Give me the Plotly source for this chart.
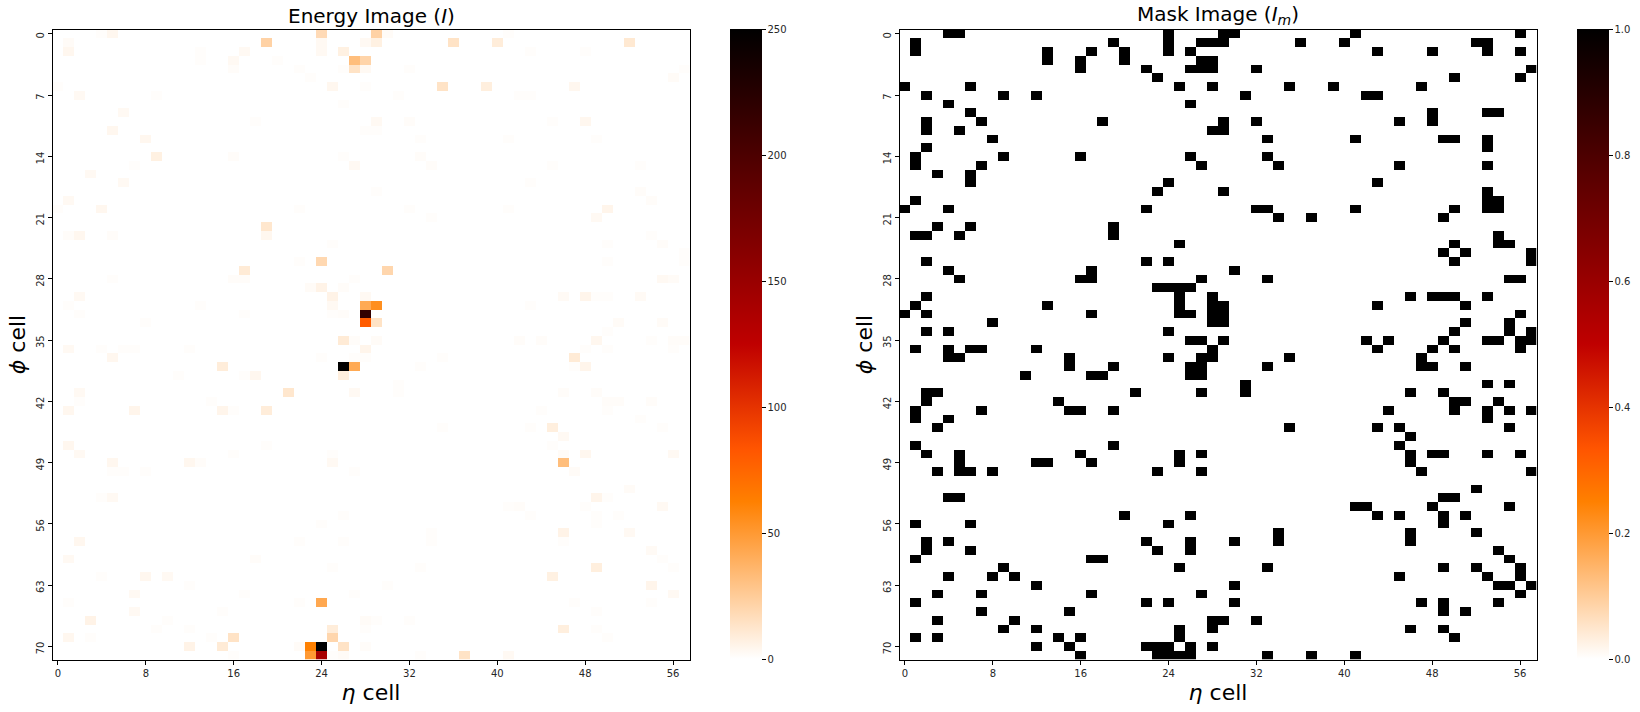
import numpy as np
import plotly.graph_objects as go

N_ETA = 58
N_PHI = 72
eta_ticks = [0, 8, 16, 24, 32, 40, 48, 56]
phi_ticks = [0, 7, 14, 21, 28, 35, 42, 49, 56, 63, 70]
energy_ticks = [0, 50, 100, 150, 200, 250]
mask_ticks = [0.0, 0.2, 0.4, 0.6, 0.8, 1.0]

# Mask image: occupied eta cells per phi row
mask_cols = {
    0: [4, 5, 24, 29, 30, 41, 56], 1: [1, 19, 24, 27, 28, 29, 36, 40, 52, 53],
    2: [1, 13, 17, 20, 24, 26, 43, 48, 53, 56], 3: [13, 16, 20, 27, 28],
    4: [16, 22, 26, 27, 28, 32, 57], 5: [23, 50, 56], 6: [0, 6, 25, 28, 35, 39, 47],
    7: [2, 9, 12, 31, 42, 43], 8: [4, 26], 9: [6, 48, 53, 54],
    10: [2, 7, 18, 29, 32, 45, 48], 11: [2, 5, 28, 29], 12: [8, 33, 41, 49, 50, 53],
    13: [2, 53], 14: [1, 9, 16, 26, 33], 15: [1, 7, 27, 34, 45, 53], 16: [3, 6],
    17: [6, 24, 43], 18: [23, 29, 53], 19: [1, 53, 54],
    20: [0, 4, 22, 32, 33, 41, 50, 53, 54], 21: [34, 37, 49], 22: [3, 6, 19],
    23: [1, 2, 5, 19, 54], 24: [25, 50, 54, 55], 25: [49, 51, 57],
    26: [2, 22, 24, 50, 57], 27: [4, 17, 30], 28: [5, 16, 17, 27, 33, 55, 56],
    29: [23, 24, 25, 26], 30: [2, 25, 28, 46, 48, 49, 50, 53],
    31: [1, 13, 25, 28, 29, 43, 51], 32: [0, 2, 17, 25, 26, 28, 29, 56],
    33: [8, 28, 29, 51, 55], 34: [2, 4, 24, 50, 55, 57],
    35: [26, 27, 29, 42, 44, 49, 53, 54, 56, 57],
    36: [1, 4, 6, 7, 12, 28, 43, 48, 50, 56], 37: [4, 5, 15, 24, 27, 28, 35, 47],
    38: [15, 19, 26, 27, 33, 47, 48, 51], 39: [11, 17, 18, 26, 27], 40: [31, 53, 55],
    41: [2, 3, 21, 27, 31, 46, 49], 42: [2, 14, 50, 51, 54],
    43: [1, 7, 15, 16, 19, 44, 50, 53, 55, 57], 44: [1, 4, 53], 45: [3, 35, 43, 45, 55],
    46: [46], 47: [1, 19, 45], 48: [2, 5, 16, 25, 27, 46, 48, 49, 53, 56],
    49: [5, 12, 13, 17, 25, 46], 50: [3, 5, 6, 8, 23, 27, 47, 57], 52: [52],
    53: [4, 5, 49, 50], 54: [41, 42, 48, 55], 55: [20, 26, 43, 45, 49, 51],
    56: [1, 6, 24, 49], 57: [34, 46, 52], 58: [2, 4, 22, 26, 30, 34, 46],
    59: [2, 6, 23, 26, 54], 60: [1, 17, 18, 55], 61: [9, 25, 33, 49, 52, 56],
    62: [4, 8, 10, 45, 53, 56], 63: [12, 30, 54, 55, 57], 64: [3, 7, 17, 27, 56],
    65: [1, 22, 24, 30, 47, 49, 54], 66: [7, 15, 49, 51], 67: [3, 10, 28, 29, 32],
    68: [9, 12, 25, 28, 46, 49], 69: [1, 3, 14, 16, 25, 50],
    70: [12, 15, 22, 23, 24, 26, 28], 71: [16, 23, 24, 25, 26, 33, 37, 41],
}

# Energy image: visible deposits per phi row, {eta cell: energy}
energy_vals = {
    0: {4: 1, 5: 4, 24: 18, 29: 22, 30: 2, 41: 1},
    1: {1: 2, 19: 22, 24: 3, 28: 3, 29: 7, 36: 14, 40: 9, 52: 11},
    2: {1: 4, 13: 1, 17: 3, 24: 3, 26: 7, 43: 1, 48: 1},
    3: {13: 1, 16: 3, 20: 1, 27: 32, 28: 21},
    4: {16: 1.5, 22: 1, 26: 1, 27: 14, 28: 3, 32: 1, 57: 1},
    5: {23: 1, 56: 2},
    6: {0: 1, 25: 4, 28: 1, 35: 14, 39: 8, 47: 4},
    7: {2: 3, 9: 1, 31: 1, 42: 1, 43: 1},
    8: {26: 1},
    9: {6: 3},
    10: {18: 1, 29: 3, 32: 1.5, 45: 1, 48: 4},
    11: {5: 4, 28: 1, 29: 1},
    12: {8: 4, 33: 1, 41: 1, 49: 1},
    14: {9: 7, 16: 1.5, 26: 1, 33: 1.5},
    15: {7: 1, 27: 3, 34: 1.5, 45: 1, 53: 1},
    16: {3: 3},
    17: {6: 3, 43: 1},
    18: {29: 1, 53: 1.5},
    19: {1: 3, 54: 1.5},
    20: {0: 1, 4: 4, 22: 1, 32: 1, 41: 1, 50: 5},
    21: {34: 1, 49: 3},
    22: {19: 12},
    23: {1: 1.5, 2: 4, 5: 1.5, 19: 4, 54: 1},
    24: {25: 1, 50: 1, 55: 1.5},
    25: {57: 1},
    26: {22: 1, 24: 19, 50: 1, 57: 1},
    27: {17: 10, 30: 20},
    28: {5: 1, 16: 1.5, 17: 1.5, 27: 1, 55: 3, 56: 2},
    29: {23: 2, 24: 6, 26: 1.5},
    30: {2: 3, 25: 6, 28: 3, 46: 2.5, 48: 5, 49: 1, 50: 1, 53: 2.5},
    31: {1: 1, 13: 1, 25: 3, 28: 42, 29: 55, 43: 1},
    32: {2: 1, 17: 1, 25: 1, 26: 1.5, 28: 218},
    33: {8: 1, 28: 80, 29: 14, 51: 2, 55: 2},
    34: {50: 1},
    35: {26: 10, 27: 1.5, 29: 2, 42: 1.5, 44: 1.5, 49: 4, 54: 1, 56: 1.5, 57: 1.5},
    36: {1: 3, 4: 1, 6: 1, 7: 1, 12: 1, 28: 5, 48: 1, 50: 1, 56: 1},
    37: {5: 4, 24: 1, 27: 1, 28: 1, 35: 1, 47: 10},
    38: {15: 9, 26: 250, 27: 42, 33: 1, 47: 1, 48: 5},
    39: {11: 1, 17: 1, 18: 4, 26: 8},
    40: {31: 1},
    41: {2: 3, 21: 12, 27: 3, 31: 1, 46: 1.5, 49: 1.5},
    42: {2: 1, 14: 1, 50: 1.5, 51: 1.5, 54: 1.5},
    43: {1: 4, 7: 5, 15: 5, 16: 1, 19: 9, 44: 1, 50: 1},
    44: {53: 1},
    45: {35: 1, 43: 1, 45: 8, 55: 1},
    46: {46: 3},
    47: {1: 4, 19: 1, 45: 1},
    48: {2: 3, 16: 1, 25: 1, 46: 2, 48: 4, 56: 3},
    49: {5: 4, 12: 4, 13: 1.5, 25: 3, 46: 32},
    50: {5: 1, 6: 1, 8: 1, 27: 1, 47: 2},
    52: {52: 2},
    53: {4: 1, 5: 3, 49: 5, 50: 1},
    54: {41: 1, 42: 1.5, 48: 1, 55: 3},
    55: {26: 1, 43: 1, 49: 1, 51: 1},
    56: {24: 1, 49: 1},
    57: {34: 1, 46: 6, 52: 3},
    58: {2: 4, 22: 1, 26: 1, 34: 1, 46: 1},
    59: {54: 2.5},
    60: {1: 3, 18: 1.5, 55: 1},
    61: {25: 1, 33: 1, 49: 8, 56: 1},
    62: {4: 1, 8: 4, 10: 3, 45: 7},
    63: {12: 1, 30: 1, 54: 5},
    64: {7: 3, 17: 1, 27: 1, 56: 3},
    65: {1: 1, 22: 1, 24: 43, 47: 1, 54: 1},
    66: {7: 3, 15: 1, 49: 1},
    67: {3: 6, 10: 1, 28: 2, 29: 1, 32: 1},
    68: {9: 1, 12: 1, 25: 9, 28: 1, 46: 8, 49: 1},
    69: {1: 4, 3: 1, 14: 1, 16: 14, 25: 20, 50: 1},
    70: {12: 6, 15: 10, 22: 2, 23: 62, 24: 250, 26: 14, 28: 1.5},
    71: {16: 1, 23: 50, 24: 140, 25: 1, 26: 2, 33: 1, 37: 14, 41: 3},
}

energy = np.zeros((N_PHI, N_ETA))
for row, cells in energy_vals.items():
    for col, val in cells.items():
        energy[row, col] = val
mask = np.zeros((N_PHI, N_ETA))
for row, cols in mask_cols.items():
    mask[row, cols] = 1

gist_heat_r = [
    [0.0, "rgb(255,255,255)"],
    [0.25, "rgb(255,128,0)"],
    [1 / 3, "rgb(255,85,0)"],
    [0.5, "rgb(191,0,0)"],
    [1.0, "rgb(0,0,0)"],
]

W, H = 1640, 712
TOP, BOT = 29.5, 659.5
FONT = "DejaVu Sans"
TICK_FONT = dict(family=FONT, size=10, color="#262626")


def colorbar(x0, ticks, fmt):
    return dict(
        x=x0 / W, xanchor="left", xpad=0, y=1 - TOP / H, yanchor="top", ypad=0,
        len=(BOT - TOP) / H, lenmode="fraction", thickness=32, thicknessmode="pixels",
        outlinewidth=0, tickvals=ticks, tickformat=fmt, ticks="outside", ticklen=4,
        tickwidth=1, tickcolor="#000", tickfont=TICK_FONT,
    )


fig = go.Figure()
x = list(range(N_ETA))
y = list(range(N_PHI))
fig.add_trace(go.Heatmap(z=energy, x=x, y=y, xaxis="x", yaxis="y", zmin=0, zmax=250,
                         colorscale=gist_heat_r, colorbar=colorbar(730, energy_ticks, "d")))
fig.add_trace(go.Heatmap(z=mask, x=x, y=y, xaxis="x2", yaxis="y2", zmin=0, zmax=1,
                         colorscale=gist_heat_r, colorbar=colorbar(1577, mask_ticks, ".1f")))


def xaxis(x0, x1, anchor):
    return dict(domain=[x0 / W, x1 / W], anchor=anchor, range=[-0.5, N_ETA - 0.5],
                tickvals=eta_ticks, ticks="outside", ticklen=4, tickwidth=1, tickcolor="#000",
                tickfont=TICK_FONT,
                showline=True, linecolor="#000", linewidth=1, mirror=True, showgrid=False,
                zeroline=False,
                title=dict(text="<i>η</i> cell", font=dict(family=FONT, size=22, color="#000"), standoff=7))


def yaxis(anchor):
    return dict(domain=[1 - BOT / H, 1 - TOP / H], anchor=anchor, range=[N_PHI - 0.5, -0.5],
                tickvals=phi_ticks, tickangle=-90, ticks="outside", ticklen=4, tickwidth=1, tickcolor="#000",
                tickfont=TICK_FONT, ticklabelshift=-3,
                showline=True, linecolor="#000", linewidth=1, mirror=True, showgrid=False,
                zeroline=False,
                title=dict(text="<i>ϕ</i> cell", font=dict(family=FONT, size=22, color="#000"), standoff=2))


fig.update_layout(
    width=W, height=H, margin=dict(l=0, r=0, t=0, b=0), paper_bgcolor="#fff", plot_bgcolor="#fff",
    xaxis=xaxis(52.5, 689.5, "y"), yaxis=yaxis("x"),
    xaxis2=xaxis(899.5, 1536.5, "y2"), yaxis2=yaxis("x2"),
    annotations=[
        dict(text="Energy Image (<i>I</i>)", x=371 / W, y=1 - 30 / H, xref="paper", yref="paper",
             xanchor="center", yanchor="bottom", showarrow=False,
             font=dict(family=FONT, size=20, color="#000")),
        dict(text="Mask Image (<i>I<sub>m</sub></i>)", x=1218 / W, y=1 - 30 / H, xref="paper", yref="paper",
             xanchor="center", yanchor="bottom", showarrow=False,
             font=dict(family=FONT, size=20, color="#000")),
    ],
)

fig.write_html("out.html", config={"displayModeBar": False},
               post_script="document.body.style.margin='0';")
